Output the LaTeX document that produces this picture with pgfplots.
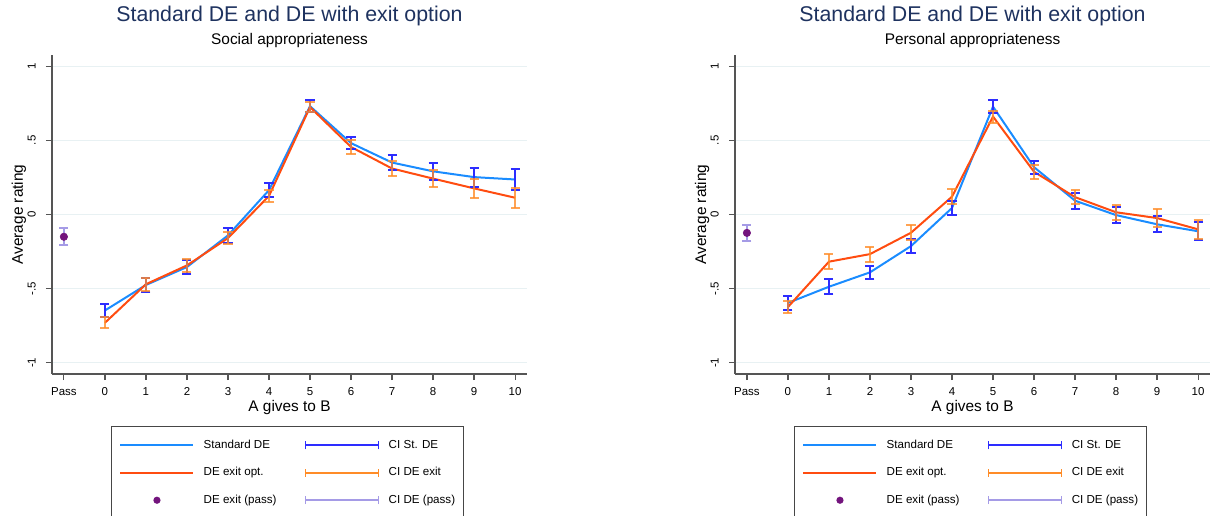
\documentclass[border=0pt]{standalone}
\usepackage{fontspec}
\setmainfont{Liberation Sans}
\usepackage{pgfplots}
\usepackage{pgfplotstable}
\pgfplotsset{compat=1.18}
\definecolor{lineblue}{RGB}{26,140,255}
\definecolor{linered}{RGB}{255,76,16}
\definecolor{blueCI}{RGB}{45,45,255}
\definecolor{orangeCI}{RGB}{255,140,40}
\definecolor{passCI}{RGB}{165,155,230}
\definecolor{passdot}{RGB}{115,20,125}
\definecolor{titlec}{RGB}{30,50,95}
\definecolor{axisgray}{RGB}{85,85,85}
\definecolor{gridc}{RGB}{232,241,243}
\definecolor{leggray}{RGB}{70,70,70}

% Social appropriateness
\pgfplotstableread{
x y e
0 -0.647 0.044
1 -0.475 0.045
2 -0.354 0.047
3 -0.141 0.049
4 0.164 0.047
5 0.730 0.040
6 0.481 0.041
7 0.350 0.052
8 0.291 0.056
9 0.252 0.064
10 0.236 0.068
}\socstd
\pgfplotstableread{
x y e
0 -0.730 0.037
1 -0.470 0.045
2 -0.343 0.043
3 -0.159 0.042
4 0.125 0.040
5 0.724 0.034
6 0.455 0.045
7 0.310 0.050
8 0.242 0.056
9 0.176 0.062
10 0.113 0.066
}\socexit
\pgfplotstableread{
x y e
-1 -0.150 0.056
}\socpass
% Personal appropriateness
\pgfplotstableread{
x y e
0 -0.596 0.047
1 -0.487 0.050
2 -0.390 0.045
3 -0.213 0.049
4 0.044 0.048
5 0.727 0.042
6 0.319 0.043
7 0.093 0.053
8 -0.004 0.056
9 -0.066 0.055
10 -0.113 0.060
}\perstd
\pgfplotstableread{
x y e
0 -0.624 0.042
1 -0.318 0.052
2 -0.267 0.050
3 -0.123 0.050
4 0.120 0.050
5 0.660 0.040
6 0.288 0.046
7 0.117 0.047
8 0.015 0.052
9 -0.024 0.060
10 -0.100 0.063
}\perexit
\pgfplotstableread{
x y e
-1 -0.124 0.052
}\perpass

\pgfplotsset{
  panel/.style={
    scale only axis, width=356.25pt, height=239.25pt,
    xmin=-1.29, xmax=10.29, ymin=-1.075, ymax=1.075,
    axis x line*=bottom, axis y line*=left,
    axis line style={-, draw=axisgray, line width=1.1pt},
    xtick={-1,0,1,2,3,4,5,6,7,8,9,10},
    xticklabels={Pass,0,1,2,3,4,5,6,7,8,9,10},
    ytick={-1,-0.5,0,0.5,1},
    yticklabels={-1,-.5,0,.5,1},
    tick align=outside, major tick length=4.5pt,
    tick style={draw=axisgray, line width=0.9pt},
    ymajorgrids, major grid style={draw=gridc, line width=0.9pt},
    ticklabel style={font=\fontsize{8.6}{10}\selectfont},
    xticklabel style={inner sep=0pt, anchor=north, yshift=-5.25pt},
    yticklabel style={xshift=-7.5pt, rotate=90, anchor=south, inner sep=0pt},
    every axis x label/.style={at={(axis description cs:0.5,0)}, anchor=base, yshift=-27.75pt, font=\fontsize{11.55}{13}\selectfont},
    every axis y label/.style={at={(axis description cs:0,0.5)}, xshift=-21.75pt, rotate=90, anchor=base, font=\fontsize{11.55}{13}\selectfont},
    xlabel={A gives to B}, ylabel={Average rating},
    clip=false,
    legend columns=2,
    legend cell align=left,
    legend style={at={(axis description cs:0,0)}, anchor=north west, xshift=44.25pt, yshift=-39pt,
      draw=leggray, line width=0.75pt, inner xsep=6pt, inner ysep=10pt,
      font=\fontsize{8.7}{10}\selectfont,
      nodes={inner sep=0pt, text height=6.3pt, text depth=1.9pt},
      column sep=7pt, row sep=12.4pt,
      /tikz/every even column/.append style={column sep=21pt}},
  },
  lineleg/.style={legend image code/.code={\draw[##1] (0pt,0pt) -- (54.75pt,0pt);}},
  cileg/.style={legend image code/.code={\draw[##1] (0pt,0pt) -- (54.75pt,0pt); \draw[##1] (0pt,-3pt) -- (0pt,3pt); \draw[##1] (54.75pt,-3pt) -- (54.75pt,3pt);}},
  dotleg/.style={legend image code/.code={\path[draw=none] (0pt,0pt) -- (54.75pt,0pt); \fill[##1, draw=none] (27.4pt,0pt) circle (2.7pt);}},
  cistd/.style={forget plot, draw=none, mark=none,
    error bars/.cd, y dir=both, y explicit,
    error bar style={draw=blueCI, line width=1.5pt},
    error mark options={rotate=90, draw=blueCI, line width=1.5pt, mark size=3.4pt}},
  ciexit/.style={forget plot, draw=none, mark=none,
    error bars/.cd, y dir=both, y explicit,
    error bar style={draw=orangeCI, line width=1.5pt, opacity=0.8},
    error mark options={rotate=90, draw=orangeCI, line width=1.5pt, mark size=3.4pt, opacity=0.8}},
  cipass/.style={forget plot, draw=none, mark=none,
    error bars/.cd, y dir=both, y explicit,
    error bar style={draw=passCI, line width=1.5pt},
    error mark options={rotate=90, draw=passCI, line width=1.5pt, mark size=3.4pt}},
}

\begin{document}
\begin{tikzpicture}
\useasboundingbox (0pt,0pt) rectangle (907.5pt,386.25pt);
\clip (0pt,0pt) rectangle (907.5pt,386.25pt);

% ---------- left panel ----------
\node[anchor=base, font=\fontsize{16}{18}\selectfont, text=titlec] at (217.125pt,369.75pt) {Standard DE and DE with exit option};
\node[anchor=base, font=\fontsize{11.55}{13}\selectfont] at (217.125pt,352.5pt) {Social appropriateness};
\begin{axis}[panel, at={(39pt,105.75pt)}, anchor=south west]
  \addplot[forget plot, lineblue, line width=1.5pt, mark=none] table[x=x,y=y] {\socstd};
  \addplot[forget plot, linered, line width=1.5pt, mark=none] table[x=x,y=y] {\socexit};
  \addplot[cistd] table[x=x,y=y,y error=e] {\socstd};
  \addplot[ciexit] table[x=x,y=y,y error=e] {\socexit};
  \addplot[cipass] table[x=x,y=y,y error=e] {\socpass};
  \addplot[forget plot, only marks, mark=*, mark size=2.8pt, color=passdot] table[x=x,y=y] {\socpass};
  \addlegendimage{draw=lineblue, line width=1.4pt, lineleg}
  \addlegendimage{draw=blueCI, line width=1.4pt, cileg}
  \addlegendimage{draw=linered, line width=1.4pt, lineleg}
  \addlegendimage{draw=orangeCI, line width=1.4pt, cileg}
  \addlegendimage{passdot, dotleg}
  \addlegendimage{draw=passCI, line width=1.4pt, cileg}
  \legend{Standard DE, CI St. DE, DE exit opt., CI DE exit, DE exit (pass), CI DE (pass)}
\end{axis}

% ---------- right panel ----------
\node[anchor=base, font=\fontsize{16}{18}\selectfont, text=titlec] at (729.375pt,369.75pt) {Standard DE and DE with exit option};
\node[anchor=base, font=\fontsize{11.55}{13}\selectfont] at (729.375pt,352.5pt) {Personal appropriateness};
\begin{axis}[panel, at={(551.25pt,105.75pt)}, anchor=south west]
  \addplot[forget plot, lineblue, line width=1.5pt, mark=none] table[x=x,y=y] {\perstd};
  \addplot[forget plot, linered, line width=1.5pt, mark=none] table[x=x,y=y] {\perexit};
  \addplot[cistd] table[x=x,y=y,y error=e] {\perstd};
  \addplot[ciexit] table[x=x,y=y,y error=e] {\perexit};
  \addplot[cipass] table[x=x,y=y,y error=e] {\perpass};
  \addplot[forget plot, only marks, mark=*, mark size=2.8pt, color=passdot] table[x=x,y=y] {\perpass};
  \addlegendimage{draw=lineblue, line width=1.4pt, lineleg}
  \addlegendimage{draw=blueCI, line width=1.4pt, cileg}
  \addlegendimage{draw=linered, line width=1.4pt, lineleg}
  \addlegendimage{draw=orangeCI, line width=1.4pt, cileg}
  \addlegendimage{passdot, dotleg}
  \addlegendimage{draw=passCI, line width=1.4pt, cileg}
  \legend{Standard DE, CI St. DE, DE exit opt., CI DE exit, DE exit (pass), CI DE (pass)}
\end{axis}
\end{tikzpicture}
\end{document}
